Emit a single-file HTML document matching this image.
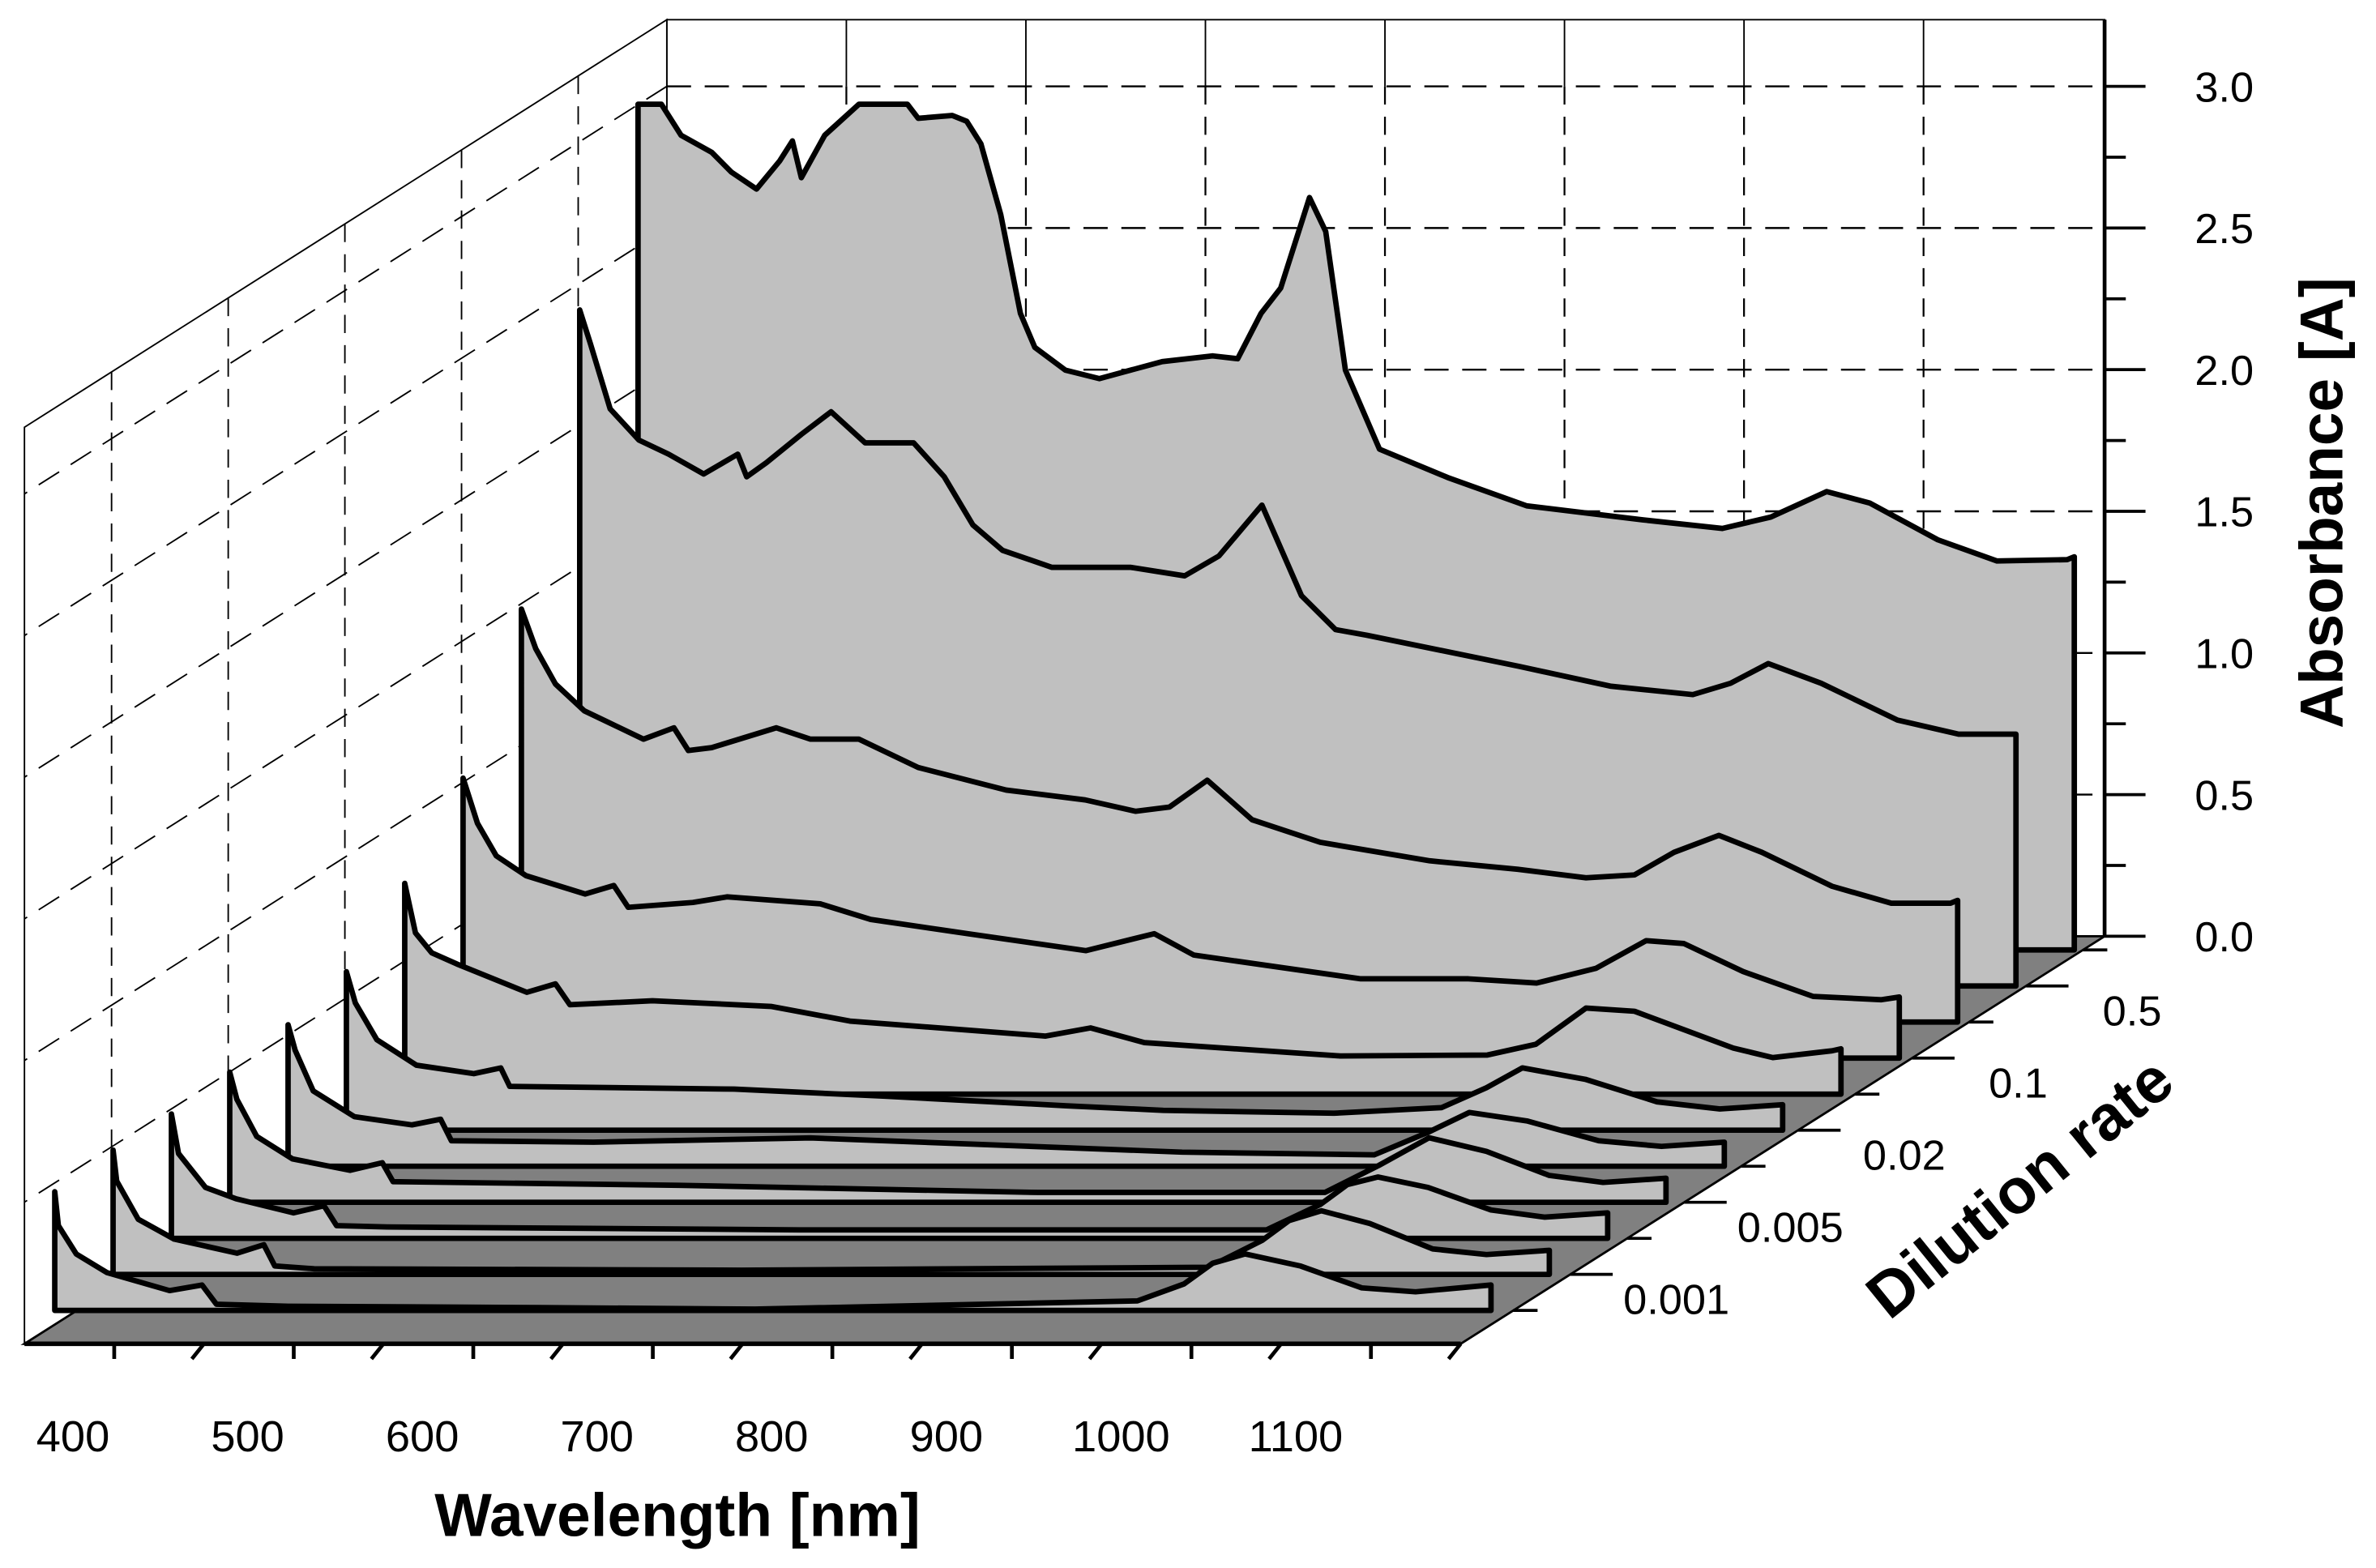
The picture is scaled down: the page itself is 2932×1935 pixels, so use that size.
<!DOCTYPE html>
<html><head><meta charset="utf-8"><title>Absorbance waterfall</title>
<style>
html,body{margin:0;padding:0;background:#fff;}
svg{display:block;}
text{font-family:"Liberation Sans",Arial,sans-serif;fill:#000;}
</style></head>
<body>
<svg id="chart" width="2932" height="1935" viewBox="0 0 1568 1035" xmlns="http://www.w3.org/2000/svg">
<g id="walls"></g>
<g id="floor"></g>
<g id="series"></g>
<g id="axes"></g>
</svg>
<script>
// ---- data ----
const wl0=[350,363,374,391,402,416,429,436,441,454,473,500,506,525,533,541,552,563,571,588,607,642,670,684,697,708,724,733,744,763,801,845,910,954,981,1012,1036,1074,1107,1146,1150];
const ab0=[2.99,2.99,2.88,2.82,2.75,2.69,2.79,2.86,2.73,2.88,2.99,2.99,2.94,2.95,2.93,2.85,2.60,2.25,2.13,2.05,2.02,2.08,2.10,2.09,2.25,2.34,2.66,2.54,2.05,1.77,1.67,1.57,1.52,1.49,1.53,1.62,1.58,1.45,1.375,1.38,1.39];
const wl1=[350,356,367,383,399.5,419,438,443,454,473.5,490,509,536,553,569,585.5,613,657,687,706,730,752,771,788.5,873,924,970,991,1012,1041.5,1084,1118,1150];
const ab1=[2.39,2.27,2.04,1.93,1.88,1.81,1.88,1.80,1.85,1.95,2.03,1.92,1.92,1.80,1.63,1.54,1.48,1.48,1.45,1.52,1.70,1.38,1.26,1.24,1.13,1.06,1.03,1.07,1.14,1.07,0.94,0.89,0.89];
const wl2=[350,358,369,385,418,435,443,456,492,511,538,571,620,664,692,711,732,757,795,856,905,943,970,992,1017,1041,1080,1113,1146,1150];
const ab2=[1.46,1.32,1.195,1.10,1.00,1.04,0.96,0.97,1.04,1.00,1.00,0.90,0.82,0.785,0.745,0.76,0.855,0.715,0.635,0.57,0.54,0.51,0.52,0.60,0.66,0.60,0.48,0.42,0.42,0.43];
const wl3=[350,358,368.5,385,418,434,442,478,497,549,577,631,697,735,757,850,910,948,981,1009,1030,1063,1102,1140,1150];
const ab3=[0.99,0.83,0.715,0.645,0.58,0.61,0.533,0.55,0.57,0.545,0.49,0.44,0.38,0.44,0.364,0.28,0.28,0.265,0.317,0.415,0.405,0.306,0.218,0.206,0.216];
const wl4=[350,356,365,379,418,434,442,488,554,598,707,732,762,871,953,980,1008,1035,1090,1112,1145,1150];
const ab4=[0.745,0.57,0.50,0.46,0.36,0.39,0.316,0.33,0.31,0.258,0.205,0.234,0.182,0.135,0.138,0.176,0.304,0.293,0.163,0.129,0.153,0.16];
const wl5=[350,355,367,389,421,436,441,566,650,751,805,900,960,985,1005,1040,1080,1115,1150];
const ab5=[0.56,0.45,0.32,0.23,0.20,0.22,0.155,0.145,0.12,0.086,0.07,0.06,0.08,0.15,0.22,0.18,0.10,0.075,0.09];
const wl6=[350,354,364,387,419,435,441,520,641,848,955,985,1008,1040,1080,1115,1150];
const ab6=[0.50,0.41,0.266,0.175,0.146,0.166,0.09,0.085,0.10,0.05,0.04,0.12,0.19,0.16,0.09,0.07,0.085];
const wl7=[350,354,365,385,417,435,441,600,800,960,990,1018,1050,1085,1115,1150];
const ab7=[0.46,0.364,0.233,0.153,0.113,0.14,0.073,0.06,0.035,0.035,0.13,0.228,0.18,0.095,0.07,0.085];
const wl8=[350,354,369,386,418,435,442,470,700,960,990,1005,1022,1050,1085,1115,1150];
const ab8=[0.44,0.30,0.18,0.14,0.09,0.115,0.045,0.04,0.03,0.03,0.12,0.19,0.217,0.18,0.10,0.075,0.09];
const wl9=[350,352,364,384,419,434,440,462,700,960,990,1005,1023,1050,1085,1115,1150];
const ab9=[0.44,0.33,0.195,0.125,0.075,0.105,0.03,0.02,0.015,0.025,0.12,0.19,0.225,0.18,0.09,0.07,0.085];
const wl10=[350,352,362,379,414,432,440,480,620,740,953,979,995,1013,1044,1078,1108,1150];
const ab10=[0.42,0.30,0.20,0.134,0.07,0.09,0.022,0.015,0.01,0.005,0.034,0.094,0.167,0.2,0.157,0.08,0.066,0.09];
const seriesWl=[wl0,wl1,wl2,wl3,wl4,wl5,wl6,wl7,wl8,wl9,wl10];
const seriesAb=[ab0,ab1,ab2,ab3,ab4,ab5,ab6,ab7,ab8,ab9,ab10];
const yTicks=[0,0.5,1,1.5,2,2.5,3];
const yTickLabels=["0.0","0.5","1.0","1.5","2.0","2.5","3.0"];
const xTicks=[400,500,600,700,800,900,1000,1100];
const xTickLabels=["400","500","600","700","800","900","1000","1100"];
const depthLabels=["0.5","0.1","0.02","0.005","0.001"];
const depthLabelIdx=[1,3,5,7,9];

// ---- axis functions ----
const W0=350,W1=1150,PXNM=1.185,PXA=186.7;
function sx(w,k){return 421-38.5*k+(w-W0)*PXNM;}
function sy(a,k){return 627+23.8*k-a*PXA;}
function wallX(w){return 440+(w-W0)*PXNM;}
function wallY(a){return 618-a*187;}
function frontX(w){return 16+(w-W0)*PXNM;}
function depthEdgeX(y){return 1389-(y-618)*1.58;}
const NS="http://www.w3.org/2000/svg";
function mk(tag,parent,attrs){const e=document.createElementNS(NS,tag);for(const k in attrs)e.setAttribute(k,attrs[k]);parent.appendChild(e);return e;}

const walls=document.getElementById('walls');
const floorG=document.getElementById('floor');
const seriesG=document.getElementById('series');
const axes=document.getElementById('axes');

let bw=mk('rect',walls,{x:440,y:13,width:949,height:605,fill:'#fff',stroke:'#000','stroke-width':1});


let lw=mk('polygon',walls,{points:'440,13 440,618 16,887 16,282',fill:'#fff',stroke:'#000','stroke-width':1});


for(let i=1;i<8;i++){
  const x=wallX(W0+i*100);
  let g=mk('line',walls,{x1:x,y1:13,x2:x,y2:wallY(3),stroke:'#000','stroke-width':1});
  
  
  let g2=mk('line',walls,{x1:x,y1:wallY(3),x2:x,y2:618,stroke:'#000','stroke-width':1.2,'stroke-dasharray':'12,8'});
  
  
}
yTicks.forEach(function(a){
  if(a===0)return;
  const y=wallY(a);
  let h=mk('line',walls,{x1:440,y1:y,x2:1389,y2:y,stroke:'#000','stroke-width':1.3,'stroke-dasharray':'16,9'});
  
  
  let s=mk('line',walls,{x1:440,y1:y,x2:16,y2:y+269,stroke:'#000','stroke-width':1,'stroke-dasharray':'16,9'});
  
  
});
depthLabelIdx.forEach(function(k){
  const x=421-38.5*k-1;
  const yt=13+(440-x)*0.6344, yb=618+(440-x)*0.6344;
  let v=mk('line',walls,{x1:x,y1:yt,x2:x,y2:yb,stroke:'#000','stroke-width':1,'stroke-dasharray':'12,8'});
  
  
});

let fl=mk('polygon',floorG,{points:'440,618 1389,618 964,887 16,887',fill:'#808080',stroke:'#000','stroke-width':1.5});


let fe=mk('line',floorG,{x1:16,y1:887,x2:964,y2:887,stroke:'#000','stroke-width':3});



for(let k=0;k<seriesWl.length;k++){
  const wl=seriesWl[k],ab=seriesAb[k];
  let pts=[[sx(W0,k),sy(0,k)]];
  for(let i=0;i<wl.length;i++)pts.push([sx(wl[i],k),sy(ab[i],k)]);
  pts.push([sx(W1,k),sy(0,k)]);
  const p=mk('polygon',seriesG,{points:pts.map(q=>q[0].toFixed(1)+','+q[1].toFixed(1)).join(' '),fill:'#c0c0c0',stroke:'#000','stroke-width':3.6,'stroke-linejoin':'round'});
  
  
}

let ya=mk('line',axes,{x1:1389,y1:13,x2:1389,y2:618,stroke:'#000','stroke-width':2.5});


for(let a=0;a<=3.001;a+=0.25){
  const major=Math.abs(a*2-Math.round(a*2))<1e-6;
  let t=mk('line',axes,{x1:1389,y1:wallY(a),x2:1389+(major?27:14),y2:wallY(a),stroke:'#000','stroke-width':2});
  
  
}
yTicks.forEach(function(a,i){
  const t=mk('text',axes,{x:1468,y:wallY(a)+10,'font-size':28,'text-anchor':'middle'});
  t.textContent=yTickLabels[i];
  
  
});
let yt=mk('text',axes,{x:0,y:0,'font-size':40,'font-weight':'bold','text-anchor':'middle',transform:'translate(1546,332) rotate(-90)'});
yt.textContent='Absorbance [A]';



xTicks.forEach(function(w,i){
  const x=frontX(w);
  let t=mk('line',axes,{x1:x,y1:887,x2:x,y2:897,stroke:'#000','stroke-width':2.5});
  
  
  const xm=frontX(w+50);
  let tm=mk('line',axes,{x1:xm,y1:887,x2:xm-8,y2:897,stroke:'#000','stroke-width':2.5});
  
  
  const lab=mk('text',axes,{x:48+(w-400)*1.153,y:958,'font-size':29,'text-anchor':'middle'});
  lab.textContent=xTickLabels[i];
  
  
});
let xt=mk('text',axes,{x:447,y:1014,'font-size':40,'font-weight':'bold','text-anchor':'middle'});
xt.textContent='Wavelength [nm]';



for(let k=0;k<=10;k++){
  const y=627+23.8*k, x=depthEdgeX(y);
  const labeled=depthLabelIdx.indexOf(k)>=0;
  let t=mk('line',axes,{x1:x,y1:y,x2:x+(labeled?28:16),y2:y,stroke:'#000','stroke-width':2});
  
  
}
depthLabelIdx.forEach(function(k,i){
  const y=627+23.8*k, x=depthEdgeX(y);
  const t=mk('text',axes,{x:x+70,y:y+26,'font-size':28,'text-anchor':'middle'});
  t.textContent=depthLabels[i];
  
  
});
let dt=mk('text',axes,{x:0,y:0,'font-size':42,'font-weight':'bold','text-anchor':'middle',transform:'translate(1342,795) rotate(-39)'});
dt.textContent='Dilution rate';


</script>
</body></html>
